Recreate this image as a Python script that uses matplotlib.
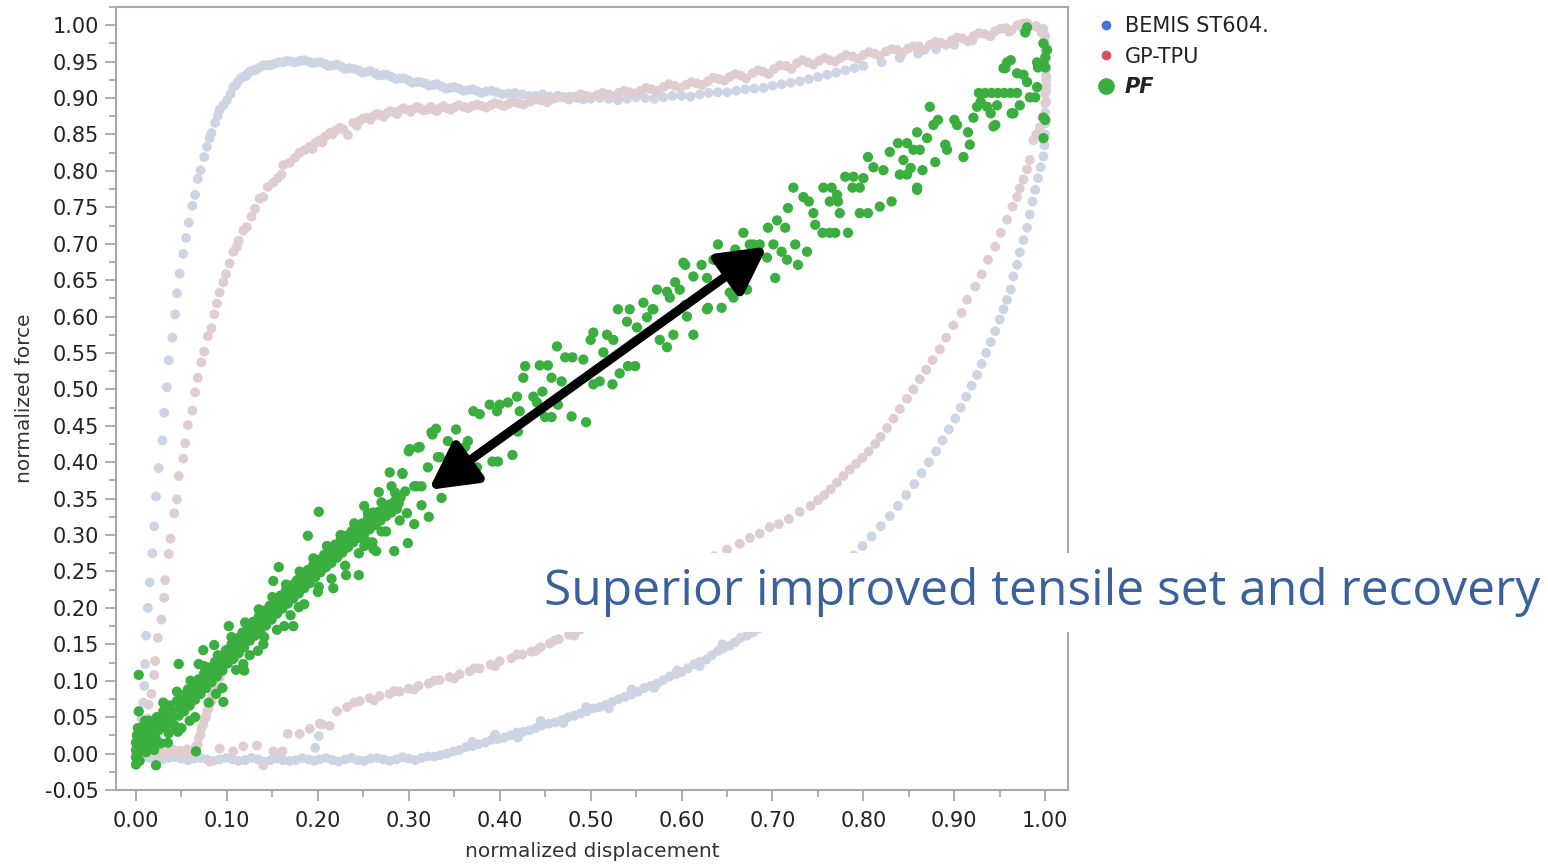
import matplotlib
matplotlib.use("Agg")
import matplotlib.pyplot as plt
from matplotlib.lines import Line2D
from matplotlib.patches import Rectangle
from matplotlib.ticker import MultipleLocator, FormatStrFormatter

plt.rcParams['font.family'] = ['DejaVu Sans']

# BEMIS ST604. (loading -> unloading -> return)
bemis_pts = [
    (0.000, 0.000), (0.002, 0.010), (0.004, 0.025), (0.006, 0.048), (0.008, 0.070), (0.009, 0.093),
    (0.010, 0.123), (0.011, 0.162), (0.013, 0.200), (0.015, 0.235), (0.018, 0.275), (0.020, 0.312),
    (0.022, 0.353), (0.025, 0.392), (0.029, 0.430), (0.031, 0.468), (0.034, 0.503), (0.036, 0.540),
    (0.040, 0.571), (0.043, 0.603), (0.045, 0.632), (0.048, 0.659), (0.052, 0.686), (0.055, 0.708),
    (0.058, 0.729), (0.062, 0.752), (0.065, 0.767), (0.068, 0.789), (0.071, 0.801), (0.075, 0.819),
    (0.078, 0.833), (0.081, 0.845), (0.083, 0.852), (0.087, 0.866), (0.090, 0.876), (0.092, 0.884),
    (0.096, 0.890), (0.100, 0.897), (0.104, 0.906), (0.107, 0.915), (0.112, 0.922), (0.118, 0.929),
    (0.123, 0.934), (0.129, 0.938), (0.136, 0.942), (0.144, 0.945), (0.152, 0.947), (0.162, 0.949),
    (0.171, 0.950), (0.180, 0.951), (0.190, 0.950), (0.199, 0.949), (0.208, 0.947), (0.217, 0.945),
    (0.226, 0.943), (0.235, 0.941), (0.245, 0.938), (0.254, 0.936), (0.263, 0.934), (0.272, 0.932),
    (0.281, 0.929), (0.290, 0.927), (0.300, 0.924), (0.309, 0.922), (0.318, 0.920), (0.327, 0.918),
    (0.336, 0.916), (0.345, 0.914), (0.355, 0.913), (0.365, 0.911), (0.375, 0.910), (0.385, 0.909),
    (0.397, 0.908), (0.410, 0.906), (0.425, 0.905), (0.440, 0.903), (0.455, 0.902), (0.470, 0.901),
    (0.485, 0.900), (0.500, 0.899), (0.520, 0.899), (0.540, 0.899), (0.560, 0.900), (0.580, 0.901),
    (0.600, 0.903), (0.620, 0.905), (0.640, 0.908), (0.660, 0.910), (0.680, 0.913), (0.700, 0.917),
    (0.720, 0.921), (0.740, 0.926), (0.760, 0.932), (0.780, 0.938), (0.800, 0.944), (0.820, 0.949),
    (0.840, 0.955), (0.860, 0.961), (0.880, 0.967), (0.900, 0.973), (0.920, 0.979), (0.940, 0.985),
    (0.960, 0.991), (0.975, 0.996), (0.990, 0.999), (0.998, 0.995),
    (0.110, 0.918), (0.115, 0.927), (0.121, 0.930), (0.126, 0.937), (0.132, 0.939), (0.140, 0.945),
    (0.148, 0.945), (0.157, 0.949), (0.166, 0.951), (0.175, 0.949), (0.185, 0.952), (0.194, 0.948),
    (0.203, 0.949), (0.212, 0.944), (0.221, 0.946), (0.230, 0.940), (0.240, 0.940), (0.249, 0.935),
    (0.258, 0.937), (0.267, 0.931), (0.276, 0.932), (0.286, 0.926), (0.295, 0.927), (0.304, 0.921),
    (0.313, 0.922), (0.322, 0.917), (0.331, 0.919), (0.341, 0.913), (0.350, 0.915), (0.360, 0.910),
    (0.370, 0.912), (0.380, 0.907), (0.391, 0.910), (0.403, 0.905), (0.417, 0.907), (0.432, 0.903),
    (0.447, 0.905), (0.462, 0.900), (0.477, 0.902), (0.492, 0.898), (0.510, 0.900), (0.530, 0.897),
    (0.550, 0.901), (0.570, 0.899), (0.590, 0.903), (0.610, 0.902), (0.630, 0.907), (0.650, 0.908),
    (0.670, 0.912), (0.690, 0.914), (0.710, 0.919), (0.730, 0.923), (0.750, 0.929), (0.770, 0.935),
    (0.790, 0.941),
    (1.000, 0.985), (1.001, 0.970), (1.001, 0.955), (1.001, 0.940), (1.001, 0.925), (1.001, 0.910),
    (1.001, 0.895), (1.000, 0.880), (1.000, 0.865), (1.000, 0.850), (0.999, 0.835), (0.998, 0.820),
    (0.995, 0.805), (0.992, 0.790), (0.989, 0.774), (0.986, 0.758), (0.983, 0.740), (0.980, 0.722),
    (0.976, 0.705), (0.972, 0.688), (0.969, 0.671), (0.965, 0.655), (0.962, 0.637), (0.958, 0.623),
    (0.954, 0.610), (0.950, 0.596), (0.945, 0.580), (0.940, 0.565), (0.935, 0.550), (0.930, 0.535),
    (0.925, 0.520), (0.919, 0.505), (0.913, 0.490), (0.907, 0.475), (0.901, 0.460), (0.894, 0.445),
    (0.887, 0.430), (0.880, 0.415), (0.872, 0.400), (0.864, 0.385), (0.856, 0.370), (0.847, 0.355),
    (0.838, 0.340), (0.829, 0.326), (0.819, 0.312), (0.809, 0.298), (0.799, 0.285), (0.789, 0.272),
    (0.778, 0.259), (0.767, 0.246), (0.756, 0.234), (0.744, 0.222), (0.732, 0.210), (0.720, 0.199),
    (0.708, 0.189), (0.696, 0.180), (0.684, 0.171), (0.672, 0.162), (0.659, 0.153), (0.646, 0.144),
    (0.633, 0.135), (0.620, 0.126), (0.607, 0.117), (0.594, 0.109), (0.580, 0.101), (0.566, 0.093),
    (0.552, 0.085), (0.538, 0.078), (0.524, 0.071), (0.510, 0.064), (0.496, 0.058), (0.482, 0.052),
    (0.468, 0.046), (0.454, 0.041), (0.440, 0.035), (0.426, 0.030), (0.412, 0.025), (0.398, 0.020),
    (0.384, 0.015), (0.370, 0.010), (0.356, 0.005), (0.342, 0.000), (0.328, -0.004), (0.314, -0.006),
    (0.363, 0.009), (0.377, 0.013), (0.391, 0.019), (0.405, 0.022), (0.419, 0.029), (0.433, 0.032),
    (0.447, 0.039), (0.461, 0.043), (0.475, 0.050), (0.489, 0.055), (0.503, 0.062), (0.517, 0.067),
    (0.531, 0.075), (0.545, 0.081), (0.559, 0.090), (0.573, 0.096), (0.587, 0.106), (0.600, 0.112),
    (0.614, 0.123), (0.627, 0.129), (0.640, 0.141), (0.653, 0.148), (0.665, 0.159), (0.678, 0.166),
    (0.690, 0.177), (0.702, 0.183), (0.714, 0.195), (0.726, 0.203),
    (0.370, 0.016), (0.395, 0.026), (0.420, 0.022), (0.445, 0.045), (0.470, 0.042), (0.495, 0.064),
    (0.520, 0.062), (0.545, 0.088), (0.570, 0.090), (0.595, 0.114), (0.620, 0.120), (0.645, 0.150),
    (0.300, -0.007), (0.286, -0.008), (0.272, -0.008), (0.258, -0.007), (0.244, -0.009), (0.230, -0.008),
    (0.216, -0.009), (0.202, -0.008), (0.197, 0.008), (0.201, 0.024), (0.205, 0.040), (0.190, -0.008),
    (0.176, -0.009), (0.162, -0.009), (0.148, -0.009), (0.134, -0.008), (0.120, -0.009), (0.106, -0.008),
    (0.092, -0.008), (0.078, -0.008), (0.064, -0.007), (0.050, -0.007), (0.036, -0.006), (0.022, -0.005),
    (0.010, -0.004),
    (0.015, -0.006), (0.029, -0.008), (0.043, -0.005), (0.057, -0.009), (0.071, -0.006), (0.085, -0.010),
    (0.099, -0.006), (0.113, -0.010), (0.127, -0.006), (0.141, -0.011), (0.155, -0.007), (0.169, -0.010),
    (0.183, -0.006), (0.196, -0.010), (0.209, -0.006), (0.223, -0.011), (0.237, -0.006), (0.251, -0.010),
    (0.265, -0.006), (0.279, -0.010), (0.293, -0.005), (0.307, -0.009), (0.321, -0.004), (0.335, -0.002),
    (0.349, 0.003),
]

# GP-TPU
tpu_pts = [
    (0.005, 0.000), (0.012, 0.002), (0.020, 0.000), (0.028, 0.002), (0.036, 0.000), (0.044, 0.002),
    (0.052, 0.000), (0.060, 0.001), (0.063, 0.000), (0.066, 0.010), (0.069, 0.022), (0.072, 0.035),
    (0.016, 0.004), (0.024, 0.006), (0.032, 0.004), (0.040, 0.006), (0.048, 0.004), (0.056, 0.006),
    (0.064, 0.004),
    (0.075, 0.048), (0.078, 0.058), (0.081, 0.068), (0.084, 0.080), (0.087, 0.090), (0.090, 0.100),
    (0.093, 0.110), (0.097, 0.120), (0.101, 0.127), (0.106, 0.131), (0.111, 0.134),
    (0.068, 0.012), (0.071, 0.026), (0.074, 0.040), (0.077, 0.050), (0.080, 0.062), (0.083, 0.072),
    (0.086, 0.084), (0.089, 0.094), (0.092, 0.104), (0.095, 0.114), (0.099, 0.124), (0.104, 0.128),
    (0.109, 0.133),
    (0.008, 0.012), (0.010, 0.025), (0.013, 0.048), (0.014, 0.067), (0.017, 0.082), (0.020, 0.108),
    (0.021, 0.127), (0.024, 0.159), (0.028, 0.184), (0.031, 0.214), (0.032, 0.238), (0.036, 0.274),
    (0.038, 0.295), (0.042, 0.330), (0.045, 0.349), (0.047, 0.381), (0.052, 0.405), (0.054, 0.426),
    (0.057, 0.451), (0.062, 0.471), (0.065, 0.496), (0.068, 0.516), (0.072, 0.537), (0.075, 0.552),
    (0.079, 0.573), (0.083, 0.584), (0.086, 0.603), (0.089, 0.618), (0.092, 0.633), (0.096, 0.647),
    (0.099, 0.658), (0.103, 0.673), (0.107, 0.689), (0.111, 0.696), (0.113, 0.704), (0.118, 0.718),
    (0.122, 0.723), (0.127, 0.737), (0.131, 0.748), (0.136, 0.762), (0.140, 0.764), (0.145, 0.778),
    (0.151, 0.784), (0.156, 0.790), (0.160, 0.795), (0.162, 0.808), (0.169, 0.811), (0.175, 0.818),
    (0.180, 0.825), (0.186, 0.829), (0.191, 0.833), (0.197, 0.838), (0.202, 0.842), (0.208, 0.847),
    (0.213, 0.852), (0.219, 0.855), (0.224, 0.859), (0.233, 0.849), (0.239, 0.866), (0.246, 0.869),
    (0.254, 0.873), (0.261, 0.875), (0.268, 0.877), (0.276, 0.879), (0.283, 0.881), (0.290, 0.883),
    (0.298, 0.884), (0.305, 0.885), (0.312, 0.886), (0.320, 0.884), (0.327, 0.884), (0.334, 0.886),
    (0.194, 0.830), (0.205, 0.839), (0.216, 0.850), (0.228, 0.857), (0.243, 0.862), (0.250, 0.872),
    (0.258, 0.870), (0.265, 0.878), (0.272, 0.874), (0.280, 0.882), (0.287, 0.878), (0.294, 0.886),
    (0.302, 0.881), (0.309, 0.888), (0.316, 0.883), (0.324, 0.888), (0.331, 0.882),
    (0.342, 0.886), (0.350, 0.887), (0.360, 0.888), (0.370, 0.889), (0.380, 0.889), (0.390, 0.890),
    (0.400, 0.891), (0.410, 0.892), (0.420, 0.893), (0.433, 0.895), (0.445, 0.897), (0.458, 0.899),
    (0.470, 0.901), (0.483, 0.902), (0.495, 0.903), (0.507, 0.904), (0.520, 0.905), (0.531, 0.907),
    (0.543, 0.908), (0.555, 0.910), (0.567, 0.912), (0.580, 0.915), (0.592, 0.917), (0.605, 0.918),
    (0.617, 0.920), (0.629, 0.923), (0.641, 0.926), (0.653, 0.929), (0.665, 0.931), (0.678, 0.934),
    (0.690, 0.936), (0.702, 0.940), (0.715, 0.944), (0.727, 0.948), (0.739, 0.949), (0.751, 0.951),
    (0.763, 0.952), (0.775, 0.955), (0.788, 0.957), (0.800, 0.959), (0.812, 0.961), (0.825, 0.964),
    (0.837, 0.966), (0.849, 0.968), (0.861, 0.971), (0.873, 0.973), (0.885, 0.976), (0.897, 0.979),
    (0.909, 0.982), (0.921, 0.985), (0.933, 0.988), (0.945, 0.992), (0.957, 0.996), (0.969, 1.000),
    (0.980, 1.003), (0.990, 0.998), (0.996, 0.990),
    (0.338, 0.889), (0.346, 0.884), (0.355, 0.890), (0.365, 0.886), (0.375, 0.891), (0.385, 0.887),
    (0.395, 0.893), (0.405, 0.889), (0.415, 0.895), (0.426, 0.891), (0.439, 0.898), (0.452, 0.894),
    (0.464, 0.903), (0.476, 0.898), (0.489, 0.905), (0.501, 0.901), (0.513, 0.907), (0.525, 0.902),
    (0.537, 0.910), (0.549, 0.906), (0.561, 0.914), (0.573, 0.910), (0.586, 0.919), (0.598, 0.914),
    (0.611, 0.922), (0.623, 0.918), (0.635, 0.928), (0.647, 0.924), (0.659, 0.933), (0.671, 0.927),
    (0.684, 0.938), (0.696, 0.933), (0.708, 0.945), (0.721, 0.940), (0.733, 0.952), (0.745, 0.946),
    (0.757, 0.955), (0.769, 0.950), (0.781, 0.959), (0.794, 0.954), (0.806, 0.963), (0.818, 0.958),
    (0.831, 0.967), (0.843, 0.962), (0.855, 0.971), (0.867, 0.966), (0.879, 0.977), (0.891, 0.973),
    (0.903, 0.983), (0.915, 0.978), (0.927, 0.989), (0.939, 0.985), (0.951, 0.995), (0.963, 0.993),
    (0.975, 1.002),
    (0.999, 0.978), (1.000, 0.966), (1.001, 0.954), (1.001, 0.942), (1.001, 0.930), (1.001, 0.918),
    (1.000, 0.906), (1.000, 0.893), (0.997, 0.874), (0.994, 0.860), (0.990, 0.850), (0.987, 0.842),
    (0.983, 0.815), (0.980, 0.802), (0.976, 0.788), (0.972, 0.776), (0.969, 0.764), (0.964, 0.751),
    (0.958, 0.733), (0.951, 0.715), (0.945, 0.696), (0.937, 0.678), (0.930, 0.658), (0.923, 0.641),
    (0.914, 0.623), (0.908, 0.605), (0.899, 0.588), (0.891, 0.571), (0.884, 0.555), (0.876, 0.540),
    (0.869, 0.527), (0.862, 0.514), (0.855, 0.500), (0.848, 0.487), (0.840, 0.473), (0.833, 0.460),
    (0.826, 0.447), (0.819, 0.435), (0.813, 0.425), (0.806, 0.415), (0.799, 0.406), (0.792, 0.398),
    (0.785, 0.390), (0.778, 0.381), (0.771, 0.372), (0.764, 0.363), (0.757, 0.355), (0.750, 0.348),
    (0.742, 0.340), (0.730, 0.332), (0.718, 0.322), (0.707, 0.315), (0.697, 0.311), (0.686, 0.302),
    (0.675, 0.296), (0.664, 0.288), (0.650, 0.280), (0.636, 0.271), (0.622, 0.262), (0.610, 0.255),
    (0.596, 0.246), (0.582, 0.236), (0.568, 0.226), (0.556, 0.216), (0.544, 0.206), (0.530, 0.196),
    (0.515, 0.186), (0.500, 0.177), (0.488, 0.170), (0.476, 0.163), (0.465, 0.157), (0.455, 0.151),
    (0.445, 0.146), (0.435, 0.140), (0.425, 0.136), (0.413, 0.131), (0.400, 0.127), (0.390, 0.122),
    (0.378, 0.117), (0.367, 0.113), (0.356, 0.109), (0.345, 0.105), (0.334, 0.101), (0.322, 0.096),
    (0.311, 0.093), (0.300, 0.089), (0.290, 0.085), (0.279, 0.082), (0.268, 0.079), (0.257, 0.076),
    (0.240, 0.070), (0.262, 0.073), (0.284, 0.086), (0.306, 0.088), (0.328, 0.100), (0.350, 0.103),
    (0.372, 0.117), (0.395, 0.120), (0.419, 0.136), (0.440, 0.141), (0.460, 0.155), (0.482, 0.162),
    (0.246, 0.072), (0.232, 0.064), (0.221, 0.058), (0.213, 0.038), (0.202, 0.041), (0.191, 0.034),
    (0.180, 0.027), (0.167, 0.027), (0.161, 0.003), (0.151, 0.003), (0.140, -0.016), (0.133, 0.011),
    (0.118, 0.010), (0.107, 0.003), (0.092, 0.007), (0.081, -0.011),
]

# PF
pf_pts = [
    (0.000, -0.015), (0.000, -0.005), (0.000, 0.005), (0.000, 0.015), (0.001, 0.025), (0.002, 0.000),
    (0.002, 0.035), (0.003, 0.010), (0.004, -0.010), (0.005, 0.020), (0.006, 0.005), (0.007, 0.030),
    (0.008, 0.012), (0.009, 0.040), (0.010, 0.022), (0.011, 0.002), (0.012, 0.032), (0.014, 0.016),
    (0.015, 0.045), (0.017, 0.026), (0.018, 0.008), (0.020, 0.038), (0.022, 0.020), (0.023, 0.050),
    (0.025, 0.032), (0.027, 0.014), (0.028, 0.044), (0.030, 0.058), (0.032, 0.036), (0.034, 0.050),
    (0.036, 0.028), (0.037, 0.066), (0.039, 0.045), (0.041, 0.058), (0.043, 0.038), (0.045, 0.072),
    (0.047, 0.052), (0.049, 0.064), (0.051, 0.080), (0.053, 0.058), (0.055, 0.072), (0.057, 0.088),
    (0.059, 0.066), (0.061, 0.080), (0.063, 0.094), (0.065, 0.074), (0.067, 0.088), (0.069, 0.102),
    (0.071, 0.082), (0.073, 0.096), (0.075, 0.110), (0.077, 0.090), (0.079, 0.104), (0.081, 0.118),
    (0.083, 0.098), (0.085, 0.112), (0.087, 0.126), (0.089, 0.106), (0.091, 0.120), (0.093, 0.134),
    (0.095, 0.114), (0.097, 0.128), (0.099, 0.142), (0.101, 0.124), (0.103, 0.136), (0.105, 0.150),
    (0.107, 0.130), (0.109, 0.144), (0.111, 0.158), (0.113, 0.138), (0.115, 0.152), (0.117, 0.166),
    (0.119, 0.146), (0.121, 0.160), (0.123, 0.173), (0.125, 0.155), (0.127, 0.168), (0.129, 0.181),
    (0.131, 0.162), (0.133, 0.176), (0.135, 0.188), (0.137, 0.170), (0.139, 0.183), (0.141, 0.196),
    (0.143, 0.176), (0.145, 0.190), (0.147, 0.203), (0.149, 0.184), (0.151, 0.197), (0.153, 0.210),
    (0.155, 0.192), (0.157, 0.205), (0.159, 0.217), (0.161, 0.199), (0.163, 0.212), (0.165, 0.224),
    (0.167, 0.206), (0.169, 0.219), (0.171, 0.231), (0.173, 0.213), (0.175, 0.226), (0.177, 0.238),
    (0.179, 0.220), (0.181, 0.233), (0.183, 0.245), (0.185, 0.227), (0.187, 0.240), (0.189, 0.252),
    (0.191, 0.234), (0.193, 0.247), (0.195, 0.259), (0.197, 0.242), (0.199, 0.254), (0.201, 0.266),
    (0.203, 0.249), (0.205, 0.261), (0.207, 0.273), (0.209, 0.256), (0.211, 0.268), (0.213, 0.280),
    (0.215, 0.262), (0.217, 0.275), (0.219, 0.287), (0.221, 0.269), (0.223, 0.282), (0.225, 0.293),
    (0.227, 0.276), (0.229, 0.288), (0.231, 0.299), (0.233, 0.283), (0.235, 0.294), (0.237, 0.305),
    (0.239, 0.290), (0.241, 0.300), (0.243, 0.311), (0.245, 0.296), (0.247, 0.306), (0.249, 0.316),
    (0.251, 0.302), (0.253, 0.312), (0.255, 0.322), (0.257, 0.308), (0.259, 0.318), (0.261, 0.327),
    (0.263, 0.314), (0.265, 0.323), (0.267, 0.332), (0.269, 0.320), (0.271, 0.329), (0.273, 0.337),
    (0.275, 0.326), (0.277, 0.334), (0.279, 0.342), (0.281, 0.331), (0.283, 0.339), (0.285, 0.347),
    (0.287, 0.336), (0.289, 0.344), (0.291, 0.352),
    # band edges
    (0.010, 0.045), (0.020, 0.005), (0.030, 0.070), (0.035, 0.015), (0.045, 0.085), (0.050, 0.035),
    (0.060, 0.100), (0.065, 0.050), (0.075, 0.120), (0.080, 0.070), (0.090, 0.135), (0.095, 0.090),
    (0.105, 0.160), (0.110, 0.115), (0.120, 0.180), (0.125, 0.135), (0.135, 0.198), (0.140, 0.150),
    (0.150, 0.215), (0.155, 0.170), (0.165, 0.232), (0.170, 0.190), (0.180, 0.250), (0.185, 0.205),
    (0.195, 0.268), (0.200, 0.222), (0.210, 0.285), (0.215, 0.240), (0.225, 0.300), (0.230, 0.258),
    (0.240, 0.316), (0.245, 0.275), (0.255, 0.330), (0.260, 0.290), (0.270, 0.345), (0.275, 0.305),
    (0.285, 0.358), (0.290, 0.320), (0.296, 0.360), (0.298, 0.330),
    # scattered points below ~0.3
    (0.003, 0.108), (0.003, 0.058), (0.022, -0.016), (0.066, 0.003), (0.046, 0.030), (0.059, 0.045),
    (0.047, 0.123), (0.069, 0.123), (0.074, 0.142), (0.086, 0.149), (0.088, 0.082), (0.096, 0.071),
    (0.118, 0.123), (0.119, 0.114), (0.102, 0.175), (0.134, 0.141), (0.141, 0.160), (0.151, 0.237),
    (0.157, 0.256), (0.163, 0.175), (0.173, 0.175), (0.179, 0.201), (0.189, 0.299), (0.201, 0.332),
    (0.201, 0.229), (0.217, 0.227), (0.231, 0.245), (0.245, 0.245), (0.253, 0.292), (0.261, 0.281),
    (0.270, 0.305), (0.284, 0.278), (0.299, 0.289), (0.293, 0.385), (0.300, 0.415), (0.310, 0.420),
    (0.325, 0.441), (0.330, 0.446), (0.306, 0.367), (0.314, 0.367), (0.321, 0.393), (0.332, 0.407),
    (0.314, 0.341), (0.306, 0.315), (0.322, 0.325), (0.336, 0.351), (0.281, 0.367), (0.267, 0.359),
    (0.251, 0.340), (0.261, 0.331), (0.251, 0.285), (0.264, 0.278),
    # middle
    (0.279, 0.386), (0.293, 0.384), (0.301, 0.418), (0.312, 0.421), (0.326, 0.438), (0.343, 0.429),
    (0.352, 0.445), (0.365, 0.429), (0.362, 0.421), (0.334, 0.407), (0.309, 0.367), (0.375, 0.393),
    (0.392, 0.401), (0.398, 0.401), (0.414, 0.410), (0.371, 0.470), (0.378, 0.466), (0.389, 0.479),
    (0.400, 0.479), (0.409, 0.482), (0.397, 0.470), (0.419, 0.490), (0.422, 0.470), (0.420, 0.442),
    (0.437, 0.490), (0.441, 0.482), (0.447, 0.497), (0.450, 0.462), (0.457, 0.462), (0.464, 0.479),
    (0.479, 0.463), (0.495, 0.455), (0.426, 0.516), (0.428, 0.532), (0.444, 0.533), (0.453, 0.533),
    (0.457, 0.516), (0.468, 0.511), (0.463, 0.559), (0.472, 0.544), (0.480, 0.544), (0.492, 0.541),
    (0.503, 0.507), (0.510, 0.511), (0.524, 0.507), (0.532, 0.522), (0.541, 0.532), (0.549, 0.532),
    (0.500, 0.568), (0.503, 0.578), (0.518, 0.575), (0.525, 0.568), (0.514, 0.551), (0.530, 0.610),
    (0.543, 0.610), (0.540, 0.593), (0.551, 0.585), (0.558, 0.619), (0.562, 0.599), (0.568, 0.610),
    (0.573, 0.637), (0.584, 0.634), (0.587, 0.626), (0.593, 0.647), (0.598, 0.637), (0.604, 0.671),
    (0.613, 0.655), (0.622, 0.671), (0.628, 0.653), (0.576, 0.568), (0.584, 0.558), (0.591, 0.575),
    (0.613, 0.575), (0.604, 0.616), (0.606, 0.600), (0.628, 0.610),
    # upper
    (0.569, 0.610), (0.602, 0.674), (0.629, 0.612), (0.644, 0.612), (0.635, 0.678), (0.640, 0.699),
    (0.647, 0.681), (0.653, 0.633), (0.657, 0.626), (0.664, 0.637), (0.672, 0.637), (0.659, 0.692),
    (0.668, 0.715), (0.675, 0.699), (0.679, 0.699), (0.686, 0.699), (0.694, 0.681), (0.695, 0.722),
    (0.701, 0.699), (0.703, 0.653), (0.705, 0.732), (0.710, 0.689), (0.714, 0.722), (0.716, 0.678),
    (0.725, 0.699), (0.728, 0.671), (0.738, 0.689), (0.717, 0.749), (0.723, 0.777), (0.734, 0.764),
    (0.740, 0.758), (0.745, 0.742), (0.747, 0.726), (0.756, 0.777), (0.765, 0.777), (0.771, 0.767),
    (0.755, 0.715), (0.763, 0.715), (0.769, 0.715), (0.783, 0.715), (0.774, 0.742), (0.763, 0.758),
    (0.772, 0.758), (0.780, 0.792), (0.789, 0.792), (0.788, 0.777), (0.796, 0.777), (0.796, 0.742),
    (0.805, 0.742), (0.818, 0.751), (0.831, 0.758), (0.800, 0.790), (0.805, 0.819), (0.811, 0.805),
    (0.822, 0.801), (0.829, 0.826), (0.840, 0.795), (0.848, 0.795), (0.852, 0.804), (0.859, 0.777),
    (0.859, 0.853), (0.844, 0.815), (0.838, 0.838), (0.848, 0.838), (0.855, 0.829), (0.862, 0.829),
    (0.865, 0.801), (0.870, 0.845), (0.879, 0.812), (0.877, 0.863), (0.882, 0.870), (0.890, 0.836),
    (0.892, 0.829), (0.900, 0.870), (0.903, 0.863), (0.910, 0.819), (0.915, 0.853), (0.921, 0.873),
    (0.925, 0.888), (0.929, 0.895), (0.917, 0.836), (0.873, 0.888), (0.927, 0.907), (0.934, 0.907),
    (0.941, 0.907), (0.948, 0.907), (0.955, 0.907), (0.962, 0.907), (0.969, 0.907), (0.936, 0.888),
    (0.947, 0.890), (0.940, 0.879), (0.943, 0.861), (0.963, 0.879), (0.972, 0.890), (0.983, 0.901),
    (0.991, 0.915), (0.980, 0.922), (0.969, 0.934), (0.976, 0.932), (0.956, 0.941), (0.962, 0.952),
    (1.000, 0.870), (0.998, 0.845), (0.992, 0.942), (0.998, 0.948), (0.980, 0.997), (0.978, 0.990),
    (0.998, 0.975), (1.000, 0.956), (1.000, 0.942), (1.002, 0.966), (0.991, 0.949), (0.958, 0.949),
    (0.954, 0.941), (0.989, 0.901), (0.965, 0.879), (0.945, 0.863), (0.859, 0.774), (0.998, 0.873),
]

series_names = ["BEMIS ST604.", "GP-TPU", "PF"]
arrow_start = (0.694, 0.696)
arrow_end = (0.322, 0.362)
note_text = "Superior improved tensile set and recovery"

W, H = 1548, 866
fig = plt.figure(figsize=(W / 100, H / 100), dpi=100)
ax = fig.add_axes([116 / W, 1 - 790 / H, (1068 - 116) / W, (790 - 7) / H])

bx, by = zip(*bemis_pts)
tx, ty = zip(*tpu_pts)
px, py = zip(*pf_pts)
ax.scatter(bx, by, s=50, color="#cdd4e4", edgecolors="none", zorder=2)
ax.scatter(tx, ty, s=50, color="#dfcdcf", edgecolors="none", zorder=3)
ax.scatter(px, py, s=55, color="#3aae3f", edgecolors="none", zorder=4)

ax.annotate("", xy=arrow_end, xytext=arrow_start,
            arrowprops=dict(arrowstyle="<|-|>,head_length=1.4,head_width=0.75",
                            mutation_scale=20, lw=6.5, color="black",
                            shrinkA=0, shrinkB=0), zorder=6)

ax.set_xlim(-0.022, 1.025)
ax.set_ylim(-0.05, 1.025)
ax.xaxis.set_minor_locator(MultipleLocator(0.05))
ax.yaxis.set_minor_locator(MultipleLocator(0.025))
ax.set_xticks([v / 100 for v in range(0, 101, 10)])
ax.set_yticks([v / 100 for v in range(-5, 101, 5)])
ax.xaxis.set_major_formatter(FormatStrFormatter("%.2f"))
ax.yaxis.set_major_formatter(FormatStrFormatter("%.2f"))
for sp in ax.spines.values():
    sp.set_color("#a8a8a8")
    sp.set_linewidth(1.5)
ax.tick_params(which="major", length=8, width=1.3, color="#a8a8a8",
               labelsize=15, labelcolor="#222222", pad=4)
ax.tick_params(axis="x", which="major", pad=7)
ax.tick_params(which="minor", length=5, width=1.3, color="#a8a8a8")
ax.set_xlabel("normalized displacement", fontsize=14.5, color="#333333", labelpad=8)
ax.set_ylabel("normalized force", fontsize=14.5, color="#333333", labelpad=8)

handles = [
    Line2D([], [], marker="o", ls="none", ms=6, color="#4472dc"),
    Line2D([], [], marker="o", ls="none", ms=6, color="#d9505f"),
    Line2D([], [], marker="o", ls="none", ms=11, color="#3aae3f"),
]
leg = fig.legend(handles, series_names, loc="upper left", bbox_to_anchor=(1085 / W, 1 - 8 / H),
                 frameon=False, fontsize=15, handletextpad=0.3, labelspacing=0.5,
                 handlelength=1.2, borderaxespad=0)
for t in leg.get_texts():
    t.set_color("#222222")
leg.get_texts()[2].set_fontweight("bold")
leg.get_texts()[2].set_fontstyle("italic")

fig.patches.append(Rectangle((535 / W, 1 - 632 / H), (W - 535) / W, 79 / H,
                             transform=fig.transFigure, facecolor="white",
                             edgecolor="none", zorder=10))
fig.text(544 / W, 1 - 592 / H, note_text, fontsize=35.8, color="#3a619e",
         family=["Open Sans", "DejaVu Sans"], va="center", ha="left", zorder=11)

fig.savefig("out.png", dpi=100)
